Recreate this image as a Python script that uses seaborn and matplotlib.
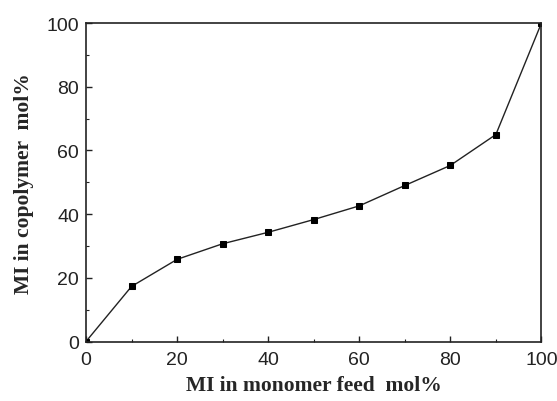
import matplotlib
matplotlib.use("Agg")
import matplotlib.pyplot as plt
import seaborn as sns
import pandas as pd
from matplotlib.ticker import MultipleLocator

# MI content: monomer feed vs. resulting copolymer (mol%)
feed_mol = [0, 10, 20, 30, 40, 50, 60, 70, 80, 90, 100]
copolymer_mol = [0, 17.3, 25.8, 30.7, 34.3, 38.3, 42.6, 49.0, 55.3, 65.0, 100]

df = pd.DataFrame({"feed": feed_mol, "copolymer": copolymer_mol})

sns.set_style("ticks")
fig = plt.figure(figsize=(5.57, 4.02), dpi=100)
ax = fig.add_axes([0.1544, 0.148, 0.8176, 0.792])

sns.lineplot(data=df, x="feed", y="copolymer", ax=ax, color="#222222",
             linewidth=1.0, marker="s", markersize=5, markeredgecolor="black",
             markerfacecolor="black")

ax.set_xlim(0, 100)
ax.set_ylim(0, 100)
ax.xaxis.set_major_locator(MultipleLocator(20))
ax.yaxis.set_major_locator(MultipleLocator(20))
ax.xaxis.set_minor_locator(MultipleLocator(10))
ax.yaxis.set_minor_locator(MultipleLocator(10))
ax.tick_params(which="major", direction="in", length=4, width=1, labelsize=14,
               colors="#222222")
ax.tick_params(axis="x", which="major", pad=7)
ax.tick_params(axis="y", which="major", pad=5)
ax.tick_params(which="minor", direction="in", length=2, width=0.8, colors="#222222")
for lab in ax.get_xticklabels() + ax.get_yticklabels():
    lab.set_fontfamily("Liberation Sans")
for s in ax.spines.values():
    s.set_linewidth(1.2)
    s.set_color("#222222")

ax.set_xlabel("MI in monomer feed  mol%", fontfamily="Liberation Serif",
              fontweight="bold", fontsize=15.5, labelpad=5)
ax.set_ylabel("MI in copolymer  mol%", fontfamily="Liberation Serif",
              fontweight="bold", fontsize=15.5, labelpad=9)

fig.savefig("out.png", dpi=100)
